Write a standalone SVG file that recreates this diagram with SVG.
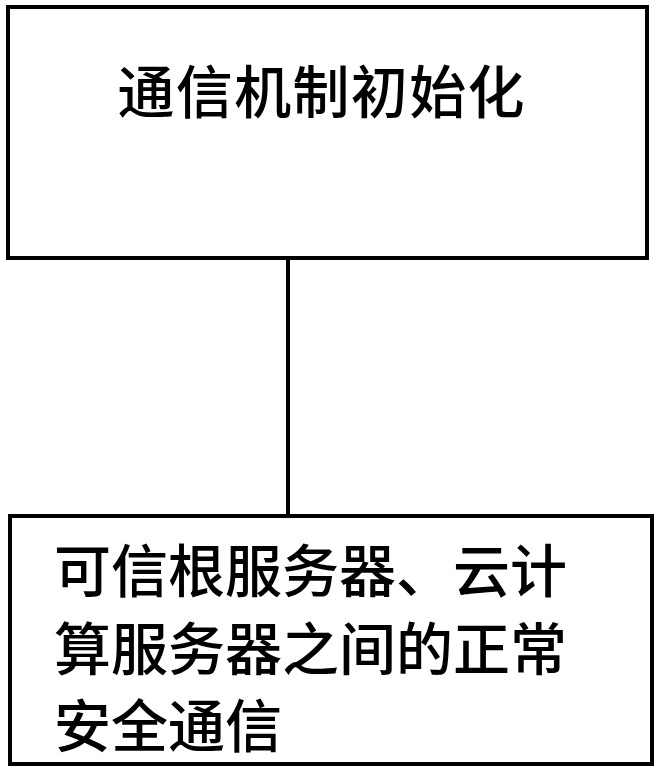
<svg xmlns="http://www.w3.org/2000/svg" width="658" height="771" viewBox="0 0 658 771">
<style>
.box{fill:#fff;stroke:#000;stroke-width:4}
.t{font-family:"Noto Sans CJK SC","Noto Sans",sans-serif;font-size:57px;fill:#000;font-weight:500}
.c{stroke:#000;stroke-width:4;fill:none}
</style>
<rect width="658" height="771" fill="#fff"/>
<g id="connectors">
<line class="c" x1="288" y1="258" x2="288" y2="516"/>
</g>
<g id="node1">
<rect class="box" x="8" y="7" width="639" height="251"/>
<text class="t" x="321" y="113" text-anchor="middle" textLength="407">通信机制初始化</text>
</g>
<g id="node2">
<rect class="box" x="10" y="516" width="642" height="248"/>
<text class="t" x="54" y="592">可信根服务器、云计</text>
<text class="t" x="54" y="670">算服务器之间的正常</text>
<text class="t" x="54" y="747">安全通信</text>
</g>
</svg>
